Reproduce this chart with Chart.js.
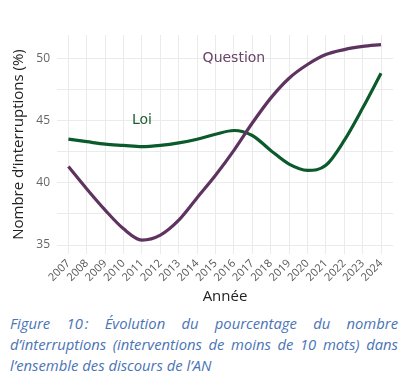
<!DOCTYPE html>
<html lang="fr">
<head>
<meta charset="UTF-8">
<title>Interruptions AN</title>
<script src="https://cdn.jsdelivr.net/npm/chart.js"></script>
<style>
  body { margin: 0; background: #fff; width: 411px; height: 380px; overflow: hidden; }
  #wrap { width: 411px; height: 310px; position: relative; }
  #caption { margin: 3px 13px 0 10px; font-family: "Open Sans", sans-serif; font-style: italic;
             font-size: 14.8px; line-height: 21px; color: #4a74b5; }
  #caption .j { text-align: justify; text-align-last: justify; }
</style>
</head>
<body>
<div id="wrap"><canvas id="chart"></canvas></div>
<div id="caption">
  <div class="j">Figure 10&#8239;: Évolution du pourcentage du nombre</div>
  <div class="j">d’interruptions (interventions de moins de 10 mots) dans</div>
  <div>l’ensemble des discours de l’AN</div>
</div>
<script>
const years = [2007, 2008, 2009, 2010, 2011, 2012, 2013, 2014, 2015, 2016, 2017, 2018, 2019, 2020, 2021, 2022, 2023, 2024];
const question = [41.3, 39.5, 37.8, 36.3, 35.4, 35.8, 37.0, 38.8, 40.6, 42.6, 44.8, 46.8, 48.4, 49.5, 50.3, 50.7, 50.95, 51.1];
const loi = [43.5, 43.3, 43.1, 43.0, 42.9, 43.0, 43.2, 43.5, 43.9, 44.2, 43.8, 42.6, 41.5, 41.0, 41.4, 43.4, 46.0, 48.8];

const labelTexts = ['Question', 'Loi'];
const labelYears = [2016, 2011];
const labelValues = [50, 45];
const labelColors = ['#6a4468', '#1b5e33'];

const yTicks = [35, 40, 45, 50];

function points(vals) {
    return years.map((y, i) => ({ x: y, y: vals[i] }));
}

// draws the "Question" / "Loi" text labels inside the plot
const labelPlugin = {
    id: 'labels',
    afterDatasetsDraw(chart) {
        const ctx = chart.ctx;
        const xs = chart.scales.x, ys = chart.scales.y;
        ctx.save();
        ctx.font = '14px "DejaVu Sans"';
        ctx.textAlign = 'center';
        ctx.textBaseline = 'middle';
        labelTexts.forEach((t, i) => {
            ctx.fillStyle = labelColors[i];
            ctx.fillText(t, xs.getPixelForValue(labelYears[i]), ys.getPixelForValue(labelValues[i]));
        });
        ctx.restore();
    }
};

const ctx = document.getElementById('chart').getContext('2d');
new Chart(ctx, {
    type: 'line',
    data: {
        datasets: [{
            label: 'Question',
            data: points(question),
            borderColor: '#5e3360',
            borderWidth: 3.2,
            pointRadius: 0,
            cubicInterpolationMode: 'monotone'
        }, {
            label: 'Loi',
            data: points(loi),
            borderColor: '#0b5a2b',
            borderWidth: 3.2,
            pointRadius: 0,
            cubicInterpolationMode: 'monotone'
        }]
    },
    options: {
        responsive: true,
        maintainAspectRatio: false,
        animation: false,
        layout: { padding: { top: 35, right: 18, left: 0, bottom: 0 } },
        plugins: { legend: { display: false }, tooltip: { enabled: false } },
        scales: {
            x: {
                type: 'linear',
                min: 2006.38,
                max: 2024.65,
                border: { display: false },
                grid: { color: '#ebebeb', lineWidth: 1, drawTicks: false },
                ticks: {
                    stepSize: 1,
                    includeBounds: false,
                    autoSkip: false,
                    minRotation: 45,
                    maxRotation: 45,
                    padding: 3,
                    color: '#555',
                    font: { family: 'Open Sans', size: 11 },
                    callback: v => String(v)
                },
                title: {
                    display: true,
                    text: 'Année',
                    color: '#222',
                    font: { family: 'Open Sans', size: 15 },
                    padding: { top: 0, bottom: 4 }
                },
                afterFit(s) { s.height = 56; }
            },
            y: {
                min: 34.28,
                max: 51.87,
                border: { display: false },
                grid: { color: '#ebebeb', lineWidth: 1, drawTicks: false },
                ticks: {
                    stepSize: 2.5,
                    includeBounds: false,
                    padding: 7,
                    color: '#666',
                    font: { family: 'Open Sans', size: 12 },
                    callback: v => yTicks.includes(v) ? String(v) : ''
                },
                title: {
                    display: true,
                    text: 'Nombre d’interruptions (%)',
                    color: '#222',
                    font: { family: 'Open Sans', size: 15 },
                    padding: { top: 10, bottom: 0 }
                },
                afterFit(s) { s.width = 57; }
            }
        }
    },
    plugins: [labelPlugin]
});
</script>
</body>
</html>
